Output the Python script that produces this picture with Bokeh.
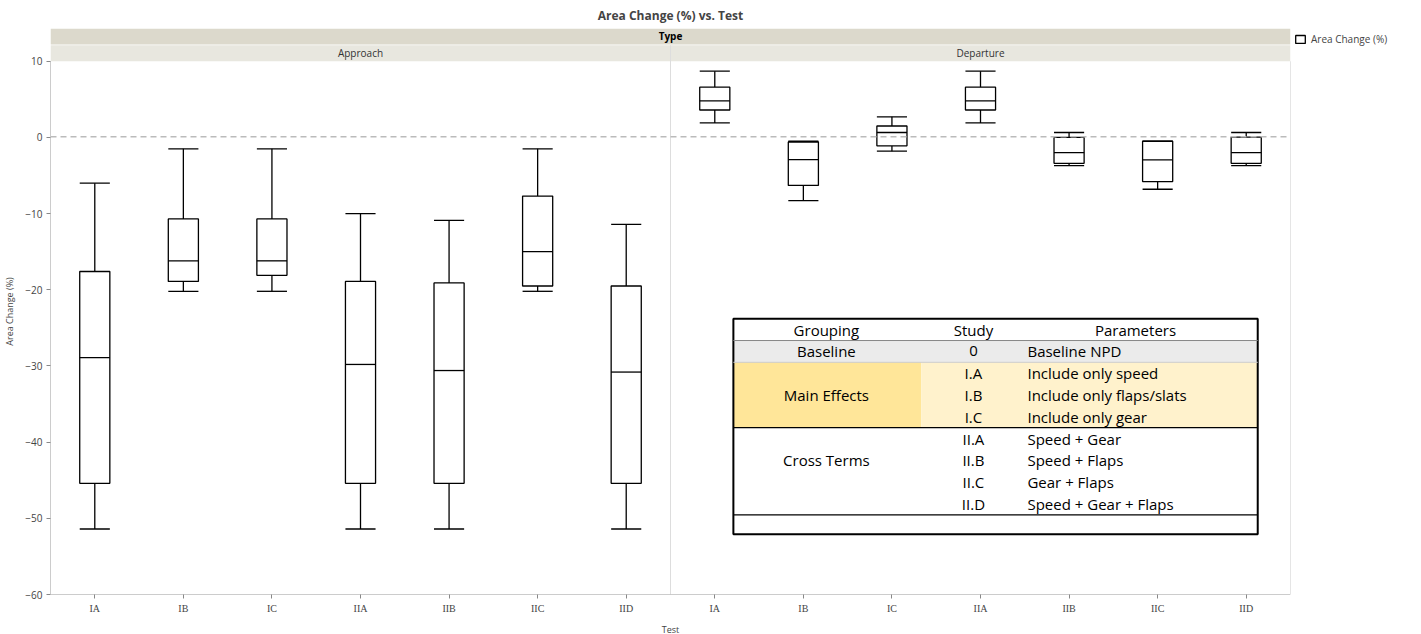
from bokeh.plotting import figure
from bokeh.models import Span, Legend, LegendItem, FixedTicker, Range1d
from bokeh.core.properties import value
from bokeh.embed import file_html
from bokeh.resources import INLINE

types = ["Approach", "Departure"]
tests = ["IA", "IB", "IC", "IIA", "IIB", "IIC", "IID"]

# box stats per test, Approach then Departure
whisker_hi = [-6.0, -1.5, -1.5, -10.0, -10.9, -1.5, -11.4,
              8.7, -0.5, 2.7, 8.7, 0.65, -0.5, 0.65]
q3 = [-17.6, -10.7, -10.7, -18.9, -19.1, -7.7, -19.5,
      6.6, -0.6, 1.5, 6.6, 0.0, -0.5, 0.05]
median = [-28.9, -16.2, -16.2, -29.8, -30.6, -15.0, -30.8,
          4.8, -2.9, 0.65, 4.8, -2.0, -2.95, -2.0]
q1 = [-45.4, -18.9, -18.1, -45.4, -45.4, -19.5, -45.4,
      3.6, -6.3, -1.1, 3.6, -3.4, -5.8, -3.4]
whisker_lo = [-51.4, -20.2, -20.2, -51.4, -51.4, -20.2, -51.4,
              1.9, -8.3, -1.8, 1.9, -3.7, -6.8, -3.7]

tbl_header = ["Grouping", "Study", "Parameters"]
tbl_study = ["0", "I.A", "I.B", "I.C", "II.A", "II.B", "II.C", "II.D"]
tbl_params = ["Baseline NPD", "Include only speed", "Include only flaps/slats",
              "Include only gear", "Speed + Gear", "Speed + Flaps",
              "Gear + Flaps", "Speed + Gear + Flaps"]
tbl_groups = ["Baseline", "Main Effects", "Cross Terms"]

FONT = "Open Sans"
n = len(types) * len(tests)
half = len(tests)
xs = [i + 0.5 for i in range(n)]
hw = 0.17

p = figure(frame_width=1240, frame_height=566, output_backend="svg", toolbar_location=None,
           x_range=Range1d(0, n), y_range=Range1d(-60, 14.3),
           min_border_left=45, min_border_right=0, min_border_bottom=0, min_border_top=0)
p.title.text = "Area Change (%) vs. Test"
p.title.align = "center"
p.title.text_font = FONT
p.title.text_font_size = "12px"
p.title.text_font_style = "bold"
p.title.standoff = 9
p.outline_line_color = None
p.grid.visible = False

# strips
p.quad(left=[0], right=[n], bottom=[12.2], top=[14.3], fill_color="#dcd9cc", line_color=None)
p.quad(left=[0, half], right=[half, n], bottom=[10, 10], top=[12.1, 12.1],
       fill_color="#e8e7df", line_color=None)
p.text(x=[n / 2], y=[13.25], text=["Type"], text_align="center", text_baseline="middle",
       text_font=value(FONT), text_font_size="10px", text_font_style="bold")
p.text(x=[half / 2, half + half / 2], y=[11.05, 11.05], text=types, text_align="center",
       text_baseline="middle", text_font=value(FONT), text_font_size="10px",
       text_color="#333333")

# frame lines
p.add_layout(Span(location=0.1, dimension="width", line_color="#bbbbbb",
                  line_dash="6 4", line_width=1.5))
p.segment(x0=[0, n, half], y0=[-60, -60, -60], x1=[0, n, half], y1=[10, 10, 12.1],
          line_color=["#999999", "#cccccc", "#dddddd"], line_width=1)
p.segment(x0=[0], y0=[-60], x1=[n], y1=[-60], line_color="#999999")

# boxes
p.segment(x0=xs, y0=q3, x1=xs, y1=whisker_hi, line_color="black", line_width=1.3)
p.segment(x0=xs, y0=q1, x1=xs, y1=whisker_lo, line_color="black", line_width=1.3)
p.segment(x0=[x - hw for x in xs], y0=whisker_hi, x1=[x + hw for x in xs], y1=whisker_hi,
          line_color="black", line_width=1.3)
p.segment(x0=[x - hw for x in xs], y0=whisker_lo, x1=[x + hw for x in xs], y1=whisker_lo,
          line_color="black", line_width=1.3)
boxes = p.quad(left=[x - hw for x in xs], right=[x + hw for x in xs], bottom=q1, top=q3,
               fill_color="white", line_color="black", line_width=1.3)
p.segment(x0=[x - hw for x in xs], y0=median, x1=[x + hw for x in xs], y1=median,
          line_color="black", line_width=1.3)

# table
tl, tr = 7.71, 13.63
tt = -23.8
rh = 2.86
gx, sx, px = 8.76, 10.42, 11.03
p.quad(left=[tl, tl, 9.83], right=[tr, 9.83, tr], bottom=[tt - 2 * rh, tt - 5 * rh, tt - 5 * rh],
       top=[tt - rh, tt - 2 * rh, tt - 2 * rh],
       fill_color=["#ebebeb", "#ffe699", "#fff2cc"], line_color=None)
p.quad(left=[tl], right=[tr], bottom=[-52.1], top=[tt], fill_color=None, line_color="black",
       line_width=2)
p.segment(x0=[tl] * 4, x1=[tr] * 4, y0=[tt - rh, tt - 2 * rh, tt - 5 * rh, tt - 9 * rh],
          y1=[tt - rh, tt - 2 * rh, tt - 5 * rh, tt - 9 * rh],
          line_color=["#888888", "#cccccc", "black", "black"], line_width=[1, 1, 1.3, 1.3])
ts = "15px"
p.text(x=[gx, sx, 12.25], y=[tt - 0.5 * rh] * 3, text=tbl_header, text_align="center",
       text_baseline="middle", text_font=value(FONT), text_font_size=ts)
p.text(x=[sx] * len(tbl_study), y=[tt - (i + 1.5) * rh for i in range(len(tbl_study))],
       text=tbl_study, text_align="center", text_baseline="middle",
       text_font=value(FONT), text_font_size=ts)
p.text(x=[px] * len(tbl_params), y=[tt - (i + 1.5) * rh for i in range(len(tbl_params))],
       text=tbl_params, text_align="left", text_baseline="middle",
       text_font=value(FONT), text_font_size=ts)
p.text(x=[gx] * 3, y=[tt - 1.5 * rh, tt - 3.5 * rh, tt - 6.5 * rh], text=tbl_groups,
       text_align="center", text_baseline="middle", text_font=value(FONT), text_font_size=ts)

# axes
p.xaxis.ticker = FixedTicker(ticks=xs)
p.xaxis.major_label_overrides = {x: tests[i % len(tests)] for i, x in enumerate(xs)}
p.xaxis.major_label_text_font = "Liberation Serif"
p.xaxis.major_label_text_font_size = "10px"
p.xaxis.axis_label = "Test"
p.yaxis.ticker = FixedTicker(ticks=list(range(-60, 11, 10)))
p.yaxis.axis_label = "Area Change (%)"
for ax in (p.xaxis, p.yaxis):
    ax.axis_line_color = None
    ax.major_tick_line_color = "#888888"
    ax.major_tick_out = 4
    ax.major_tick_in = 0
    ax.minor_tick_line_color = None
    ax.major_label_standoff = 4
    ax.axis_label_text_font = FONT
    ax.axis_label_text_font_size = "9px"
    ax.axis_label_text_font_style = "normal"
    ax.axis_label_standoff = 6
p.yaxis.major_label_text_font = FONT
p.yaxis.major_label_text_font_size = "10px"

legend = Legend(items=[LegendItem(label="Area Change (%)", renderers=[boxes])],
                location="top_left", border_line_color=None, background_fill_alpha=0,
                label_text_font=FONT, label_text_font_size="10px", glyph_width=12,
                glyph_height=10, padding=2, margin=4, label_standoff=5, label_height=12)
p.add_layout(legend, "right")

open("out.html", "w").write(file_html(p, INLINE))
